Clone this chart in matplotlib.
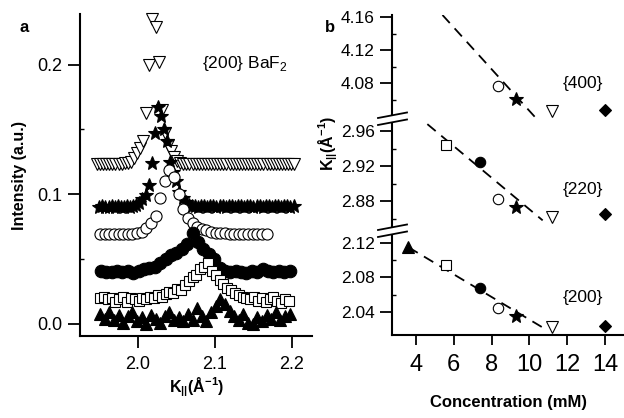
import matplotlib
matplotlib.use('Agg')

import matplotlib.pyplot as plt
import numpy as np
from matplotlib.lines import Line2D
from matplotlib.patches import Polygon

plt.rcParams['font.family'] = ['Liberation Sans', 'DejaVu Sans']
plt.rcParams['mathtext.fontset'] = 'custom'
plt.rcParams['mathtext.rm'] = 'Liberation Sans'
plt.rcParams['mathtext.bf'] = 'Liberation Sans:bold'

# ---- panel a : {200} BaF2 line profiles (intensity vs K||) ----
# each series sampled on its own regular K grid: (first K, last K)
tdn_k = (1.947, 2.203)
tdn_i = [0.123, 0.1235, 0.123, 0.1235, 0.123, 0.123, 0.1235, 0.123, 0.1235,
         0.124, 0.124, 0.125, 0.128, 0.132, 0.136, 0.141, 0.163, 0.200, 0.235,
         0.229, 0.202, 0.165, 0.147, 0.138, 0.133, 0.129, 0.126, 0.124, 0.1235,
         0.123, 0.123, 0.1235, 0.123, 0.123, 0.1235, 0.123, 0.123, 0.1235,
         0.123, 0.123, 0.1235, 0.123, 0.123, 0.1235, 0.123, 0.123, 0.1235,
         0.123, 0.123, 0.1235, 0.123, 0.123, 0.1235, 0.123, 0.123, 0.1235,
         0.123, 0.123, 0.1235, 0.123, 0.123, 0.1235, 0.123, 0.123, 0.123]

star_k = (1.950, 2.202)
star_i = [0.0905, 0.091, 0.0905, 0.0905, 0.091, 0.0905, 0.091, 0.0905, 0.0905,
          0.091, 0.0905, 0.091, 0.092, 0.093, 0.096, 0.0996, 0.107, 0.124,
          0.147, 0.167, 0.160, 0.150, 0.141, 0.125, 0.117, 0.110, 0.102,
          0.097, 0.094, 0.092, 0.091, 0.091, 0.0905, 0.091, 0.091, 0.0905,
          0.091, 0.091, 0.0905, 0.091, 0.091, 0.0905, 0.091, 0.091, 0.0905,
          0.091, 0.091, 0.0905, 0.091, 0.091, 0.0905, 0.091, 0.091, 0.0905,
          0.091, 0.091, 0.0905, 0.091, 0.091, 0.0905, 0.091, 0.091, 0.0905,
          0.091]

ocirc_k = (1.951, 2.167)
ocirc_i = [0.069, 0.069, 0.069, 0.069, 0.069, 0.069, 0.069, 0.069, 0.070,
           0.071, 0.074, 0.078, 0.083, 0.097, 0.110, 0.119, 0.113, 0.100,
           0.089, 0.082, 0.078, 0.075, 0.073, 0.0725, 0.071, 0.0705, 0.070,
           0.070, 0.0695, 0.069, 0.069, 0.069, 0.069, 0.069, 0.069, 0.069,
           0.069]

fcirc_k = (1.952, 2.197)
fcirc_i = [0.041, 0.040, 0.040, 0.041, 0.040, 0.041, 0.039, 0.041, 0.042,
           0.043, 0.044, 0.047, 0.050, 0.053, 0.055, 0.058, 0.062, 0.070,
           0.063, 0.058, 0.054, 0.050, 0.043, 0.041, 0.040, 0.041, 0.040,
           0.039, 0.041, 0.040, 0.042, 0.041, 0.040, 0.041, 0.040, 0.041]

sq_k = (1.951, 2.196)
sq_i = [0.020, 0.021, 0.019, 0.020, 0.017, 0.019, 0.021, 0.017, 0.020, 0.019,
        0.018, 0.020, 0.019, 0.021, 0.020, 0.022, 0.021, 0.023, 0.025, 0.024,
        0.027, 0.026, 0.030, 0.033, 0.036, 0.038, 0.042, 0.044, 0.047, 0.041,
        0.038, 0.034, 0.031, 0.028, 0.026, 0.024, 0.022, 0.021, 0.020, 0.019,
        0.021, 0.018, 0.020, 0.017, 0.019, 0.021, 0.018, 0.016, 0.019, 0.018]

tup_k = (1.951, 2.197)
tup_i = [0.008, 0.004, 0.009, 0.003, 0.007, 0.001, 0.006, 0.009, 0.002, 0.005,
         0.000, 0.007, 0.004, 0.001, 0.006, 0.009, 0.003, 0.005, 0.002, 0.008,
         0.003, 0.012, 0.006, 0.002, 0.009, 0.014, 0.019, 0.015, 0.010, 0.006,
         0.003, 0.008, 0.001, 0.000, 0.005, 0.002, 0.007, 0.004, 0.009, 0.003,
         0.006, 0.008]

# ---- panel b : K|| peak positions vs concentration ----
conc = [3.6, 5.6, 7.4, 8.35, 9.3, 11.2, 14.0]
k_400 = [np.nan, np.nan, np.nan, 4.077, 4.061, 4.047, 4.048]
k_220 = [np.nan, 2.944, 2.925, 2.883, 2.873, 2.862, 2.865]
k_200 = [2.115, 2.094, 2.068, 2.045, 2.035, 2.023, 2.024]

fit400_x, fit400_y = [5.4, 10.3], [4.1624, 4.039]
fit220_x, fit220_y = [4.6, 10.7], [2.968, 2.858]
fit200_x, fit200_y = [3.6, 10.7], [2.115, 2.022]

# marker style per sample (same order as conc)
styles = [dict(marker='^', mfc='k', ms=8),
          dict(marker='s', mfc='w', ms=6.5),
          dict(marker='o', mfc='k', ms=7.5),
          dict(marker='o', mfc='w', ms=7.5),
          dict(marker='*', mfc='k', ms=10),
          dict(marker='v', mfc='w', ms=8),
          dict(marker='D', mfc='k', ms=6.5)]

W, H = 624, 418


def px_rect(x0, y0, x1, y1):
    return [x0 / W, 1 - y1 / H, (x1 - x0) / W, (y1 - y0) / H]


def fx(x):
    return x / W


def fy(y):
    return 1 - y / H


fig = plt.figure(figsize=(W / 100, H / 100), dpi=100)

# ================= panel a =================
ax = fig.add_axes(px_rect(80, 14, 312, 336))
series = [(tdn_k, tdn_i, styles[5]), (star_k, star_i, styles[4]),
          (ocirc_k, ocirc_i, dict(marker='o', mfc='w', ms=8)),
          (fcirc_k, fcirc_i, dict(marker='o', mfc='k', ms=9)),
          (sq_k, sq_i, dict(marker='s', mfc='w', ms=7)),
          (tup_k, tup_i, dict(marker='^', mfc='k', ms=8.5))]
for (k0, k1), inten, st in series:
    k = np.linspace(k0, k1, len(inten))
    ax.plot(k, inten, ls='none', mec='k', mew=0.8, clip_on=False, **st)

ax.set_xlim(1.925, 2.226)
ax.set_ylim(-0.0093, 0.239)
ax.set_xticks([2.0, 2.1, 2.2])
ax.set_yticks([0.0, 0.1, 0.2])
ax.set_yticks([0.05, 0.15], minor=True)
ax.tick_params(axis='both', which='major', direction='out', length=8.5,
               width=1.3, labelsize=13)
ax.tick_params(axis='x', pad=6)
ax.tick_params(axis='y', pad=4)
ax.tick_params(axis='y', which='minor', direction='in', length=3, width=1)
for s in ['top', 'right']:
    ax.spines[s].set_visible(False)
for s in ['left', 'bottom']:
    ax.spines[s].set_linewidth(1.5)
ax.text(2.083, 0.201, '{200} BaF$_\\mathregular{2}$', fontsize=12.5,
        ha='left', va='center')
fig.text(fx(20), fy(175), 'Intensity (a.u.)', rotation=90, ha='center',
         va='center', fontsize=11.5, fontweight='bold')
fig.text(fx(197), fy(387), 'K$_\\mathbf{||}$(Å$^\\mathbf{-1}$)', ha='center',
         va='center', fontsize=11.5, fontweight='bold')
fig.text(fx(24), fy(27), 'a', ha='center', va='center', fontsize=12,
         fontweight='bold')

# ================= panel b =================
ax_top = fig.add_axes(px_rect(392, 15, 623, 118))
ax_mid = fig.add_axes(px_rect(392, 118, 623, 230))
ax_bot = fig.add_axes(px_rect(392, 230, 623, 335))

groups = [(ax_top, k_400, fit400_x, fit400_y, (4.038, 4.1624),
           [4.08, 4.12, 4.16], [4.06, 4.10, 4.14], '{400}', 4.080),
          (ax_mid, k_220, fit220_x, fit220_y, (2.847, 2.975),
           [2.88, 2.92, 2.96], [2.86, 2.90, 2.94], '{220}', 2.893),
          (ax_bot, k_200, fit200_x, fit200_y, (2.0133, 2.135),
           [2.04, 2.08, 2.12], [2.06, 2.10], '{200}', 2.057)]

for a, kvals, fxs, fys, ylim, maj, mnr, lab, ylab in groups:
    a.patch.set_visible(False)
    a.plot(fxs, fys, color='k', lw=1.3, dashes=(6, 4))
    for c, kv, st in zip(conc, kvals, styles):
        if np.isnan(kv):
            continue
        a.plot([c], [kv], ls='none', mec='k', mew=0.8, clip_on=False, **st)
    a.set_xlim(2.73, 14.95)
    a.set_ylim(*ylim)
    a.set_yticks(maj)
    a.set_yticks(mnr, minor=True)
    a.set_yticklabels(['%.2f' % v for v in maj])
    a.tick_params(axis='y', which='major', direction='out', length=8.5,
                  width=1.3, labelsize=12.5, pad=4)
    a.tick_params(axis='y', which='minor', direction='in', length=3,
                  width=1)
    for s in ['top', 'right', 'bottom']:
        a.spines[s].set_visible(False)
    a.spines['left'].set_linewidth(1.5)
    a.text(12.84, ylab, lab, fontsize=12.5, ha='center', va='center')
    if a is not ax_bot:
        a.set_xticks([])

ax_bot.spines['bottom'].set_visible(True)
ax_bot.spines['bottom'].set_linewidth(1.5)
ax_bot.set_xticks([4, 6, 8, 10, 12, 14])
ax_bot.tick_params(axis='x', direction='out', length=7.5, width=1.3,
                   labelsize=17, pad=6)

# axis breaks on the left spine
for yb in [118, 230]:
    gap = Polygon([(fx(378), fy(yb)), (fx(407), fy(yb - 5.5)),
                   (fx(407), fy(yb + 1.5)), (fx(378), fy(yb + 7))],
                  closed=True, transform=fig.transFigure, fc='w', ec='none',
                  zorder=10)
    fig.add_artist(gap)
    for dy in [0, 7]:
        fig.add_artist(Line2D([fx(378), fx(407)],
                              [fy(yb + dy), fy(yb + dy - 5.5)],
                              transform=fig.transFigure, color='k', lw=1.3,
                              zorder=11))

fig.text(fx(328), fy(143), 'K$_\\mathbf{||}$(Å$^\\mathbf{-1}$)', rotation=90,
         ha='center', va='center', fontsize=11.5, fontweight='bold')
fig.text(fx(508), fy(403), 'Concentration (mM)', ha='center', va='center',
         fontsize=12, fontweight='bold')
fig.text(fx(330), fy(27), 'b', ha='center', va='center', fontsize=12,
         fontweight='bold')

fig.savefig('out.png', dpi=100)
